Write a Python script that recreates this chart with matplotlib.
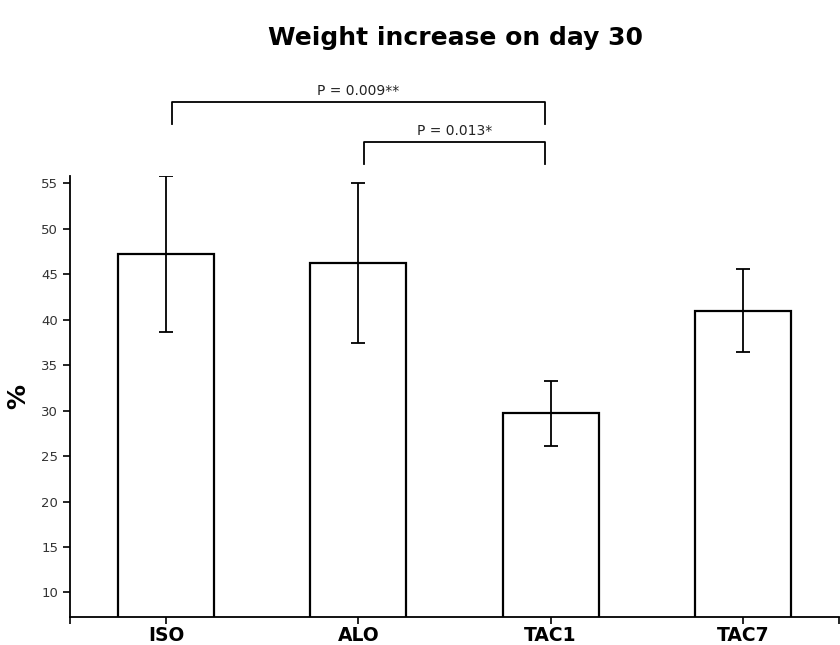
import numpy as np
import matplotlib
matplotlib.use('Agg')
import matplotlib.pyplot as plt

# Datos
grupos = ['ISO', 'ALO', 'TAC1', 'TAC7']
medias = [47.2, 46.2, 29.7, 41.0]
errores = [8.6, 8.8, 3.6, 4.6]
# comparaciones: (grupo a, grupo b, texto)
comparaciones = [(0, 2, 'P = 0.009**'), (1, 2, 'P = 0.013*')]
alturas_brackets = [63.9, 59.5]

fig = plt.figure(figsize=(8.4, 6.45), dpi=100)
ax = fig.add_axes([0.0833, 0.0434, 0.9155, 0.6836])

x = np.arange(len(grupos))
ax.bar(x, medias, width=0.5, color='white', edgecolor='black', linewidth=1.6, zorder=2)
ax.errorbar(x, medias, yerr=errores, fmt='none', ecolor='black', elinewidth=1.3,
            capsize=5, capthick=1.3, zorder=3)

ax.set_xlim(-0.5, 3.5)
ax.set_ylim(7.3, 55.8)
ax.set_yticks(np.arange(10, 56, 5))
ax.set_xticks(np.concatenate([[-0.5], x, [3.5]]))
ax.set_xticklabels([''] + grupos + [''], fontsize=13.5, fontweight='bold')
ax.tick_params(axis='y', labelsize=9.5, labelcolor='#333333', length=5, width=1.2, direction='out')
ax.tick_params(axis='x', length=5, width=1.2, direction='out', pad=1.5)

for s in ['top', 'right']:
    ax.spines[s].set_visible(False)
for s in ['left', 'bottom']:
    ax.spines[s].set_linewidth(1.3)

ax.set_ylabel('%', fontsize=18, fontweight='bold', labelpad=8)

# Brackets de significancia
for (a, b, texto), h in zip(comparaciones, alturas_brackets):
    xa, xb = a + 0.03, b - 0.03
    ax.plot([xa, xa, xb, xb], [h - 2.4, h, h, h - 2.4], color='black', lw=1.3,
            clip_on=False)
    ax.text((xa + xb) / 2, h + 0.5, texto, ha='center', va='bottom', fontsize=10,
            color='#222222', clip_on=False)

fig.suptitle('Weight increase on day 30', fontsize=18, fontweight='bold', x=0.542, y=0.96)

fig.savefig('out.png', dpi=100)
